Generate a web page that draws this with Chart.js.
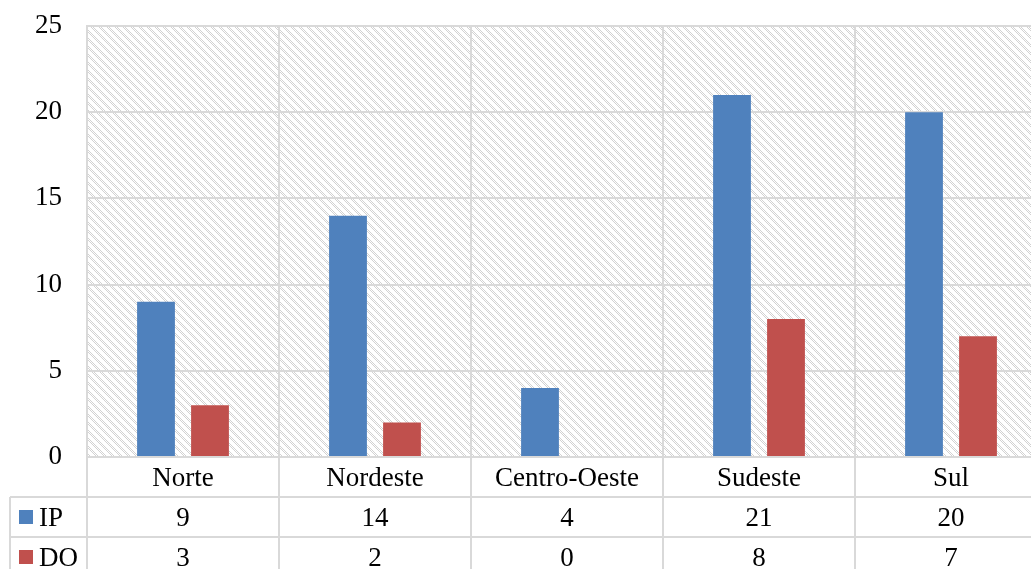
<!DOCTYPE html>
<html>
<head>
<meta charset="utf-8">
<script src="https://cdn.jsdelivr.net/npm/chart.js@4.4.1/dist/chart.umd.min.js"></script>
<style>
  html, body { margin: 0; padding: 0; background: #fff; overflow: hidden; }
  #wrap { width: 1048px; height: 569px; }
</style>
</head>
<body>
<div id="wrap"><canvas id="c" width="1048" height="569"></canvas></div>
<script>
// Regions and counts per series
const categories = ['Norte', 'Nordeste', 'Centro-Oeste', 'Sudeste', 'Sul'];
const ipValues = [9, 14, 4, 21, 20];
const doValues = [3, 2, 0, 8, 7];
const seriesNames = ['IP', 'DO'];
const seriesColors = ['#4F81BD', '#C0504D'];
const yTicks = [0, 5, 10, 15, 20, 25];

const FONT = '"Liberation Serif", "Times New Roman", serif';
const GRID = '#d9d9d9';

// Diagonal hatch used as the plot-area fill
function makeHatch() {
  const t = document.createElement('canvas');
  t.width = 8; t.height = 8;
  const g = t.getContext('2d');
  g.fillStyle = '#ffffff';
  g.fillRect(0, 0, 8, 8);
  g.fillStyle = '#d2d2d2';
  for (let y = 0; y < 8; y++) {
    for (let x = 0; x < 8; x++) {
      const d = ((x - y) % 8 + 8) % 8;
      if (d < 4 && (x + y) % 2 === 0) g.fillRect(x, y, 1, 1);
    }
  }
  return t;
}

const hatchPlugin = {
  id: 'hatch',
  beforeDraw(chart) {
    const { ctx, chartArea: a } = chart;
    ctx.save();
    ctx.fillStyle = ctx.createPattern(makeHatch(), 'repeat');
    ctx.fillRect(a.left, a.top, a.right - a.left, a.bottom - a.top);
    ctx.restore();
  }
};

// Data table under the plot: category row, then one row per series
const tablePlugin = {
  id: 'dataTable',
  afterDraw(chart) {
    const { ctx, chartArea: a } = chart;
    const xs = chart.scales.x;
    const rowH = 40;
    const top = a.bottom;
    const tableLeft = 10;
    const right = chart.width;
    const rows = [ipValues, doValues];
    const n = categories.length;
    const step = (a.right - a.left) / n;

    ctx.save();
    ctx.strokeStyle = GRID;
    ctx.lineWidth = 2;
    // horizontal rules
    for (let r = 1; r <= 3; r++) {
      const y = top + r * rowH;
      ctx.beginPath(); ctx.moveTo(tableLeft, y); ctx.lineTo(right, y); ctx.stroke();
    }
    // vertical rules at category boundaries
    for (let i = 0; i <= n; i++) {
      const x = a.left + i * step;
      ctx.beginPath(); ctx.moveTo(x, top); ctx.lineTo(x, top + 3 * rowH + 10); ctx.stroke();
    }
    // left edge of the legend column
    ctx.beginPath(); ctx.moveTo(tableLeft, top + rowH); ctx.lineTo(tableLeft, top + 3 * rowH + 10); ctx.stroke();

    ctx.fillStyle = '#000';
    ctx.font = '27px ' + FONT;
    ctx.textAlign = 'center';
    ctx.textBaseline = 'alphabetic';
    categories.forEach((c, i) => {
      ctx.fillText(c, xs.getPixelForValue(i), top + 29);
    });
    rows.forEach((vals, r) => {
      const base = top + (r + 1) * rowH + 29;
      vals.forEach((v, i) => ctx.fillText(String(v), xs.getPixelForValue(i), base));
      // legend key + series name
      ctx.fillStyle = seriesColors[r];
      ctx.fillRect(19, top + (r + 1) * rowH + 13, 14, 14);
      ctx.fillStyle = '#000';
      ctx.textAlign = 'left';
      ctx.fillText(seriesNames[r], 39, base);
      ctx.textAlign = 'center';
    });
    ctx.restore();
  }
};

new Chart(document.getElementById('c'), {
  type: 'bar',
  data: {
    labels: categories,
    datasets: [
      { label: seriesNames[0], data: ipValues, backgroundColor: seriesColors[0] },
      { label: seriesNames[1], data: doValues, backgroundColor: seriesColors[1] }
    ]
  },
  options: {
    responsive: false,
    animation: false,
    devicePixelRatio: 1,
    layout: { padding: { top: 26, right: 1, bottom: 112, left: 0 } },
    plugins: { legend: { display: false }, tooltip: { enabled: false } },
    datasets: { bar: { categoryPercentage: 0.5625, barPercentage: 0.70 } },
    scales: {
      x: {
        offset: true,
        grid: { color: GRID, lineWidth: 2, offset: true, drawTicks: false },
        border: { display: false },
        ticks: { display: false },
        afterFit(s) { s.height = 0; s.paddingLeft = 0; s.paddingRight = 0; }
      },
      y: {
        min: 0, max: 25,
        afterBuildTicks(s) { s.ticks = yTicks.map(v => ({ value: v })); },
        afterFit(s) { s.width = 87; s.paddingTop = 0; s.paddingBottom = 0; },
        grid: { color: GRID, lineWidth: 2, drawTicks: false },
        border: { color: GRID, width: 2 },
        ticks: { padding: 25, color: '#000', font: { family: FONT, size: 27 } }
      }
    }
  },
  plugins: [hatchPlugin, tablePlugin]
});
</script>
</body>
</html>
